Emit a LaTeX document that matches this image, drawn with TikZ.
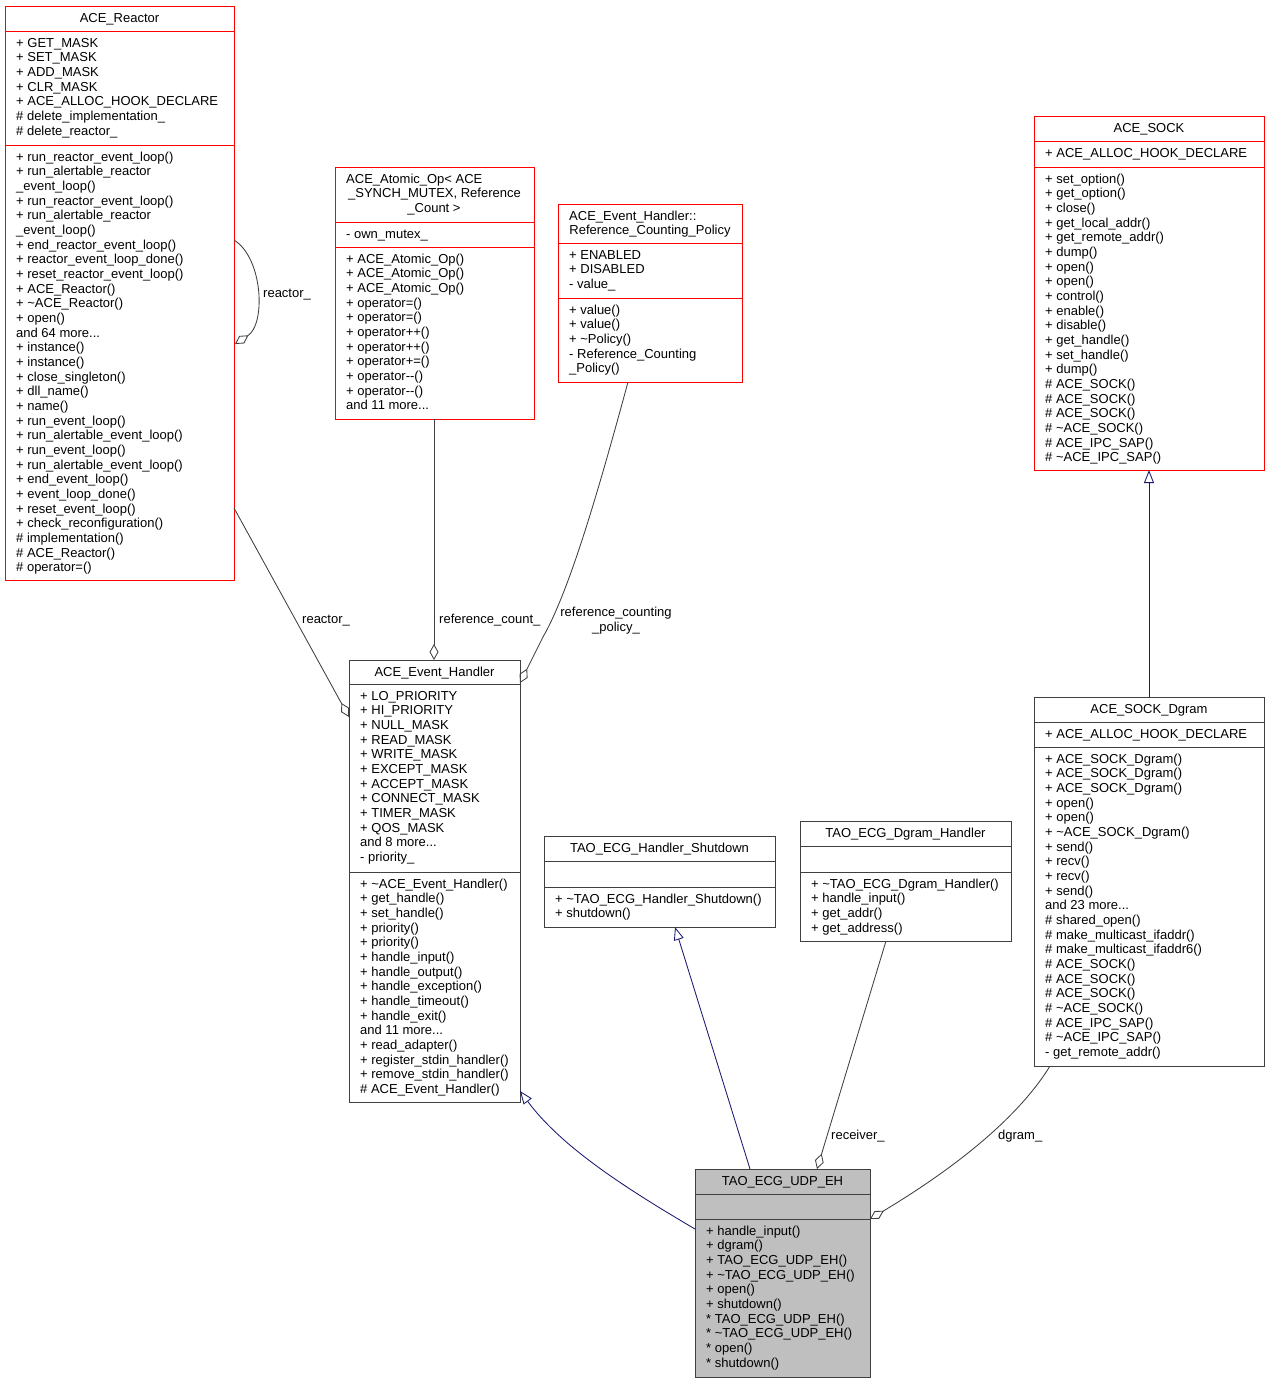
\documentclass[tikz,border=0pt]{standalone}
\usepackage{fontspec}
\setmainfont{Liberation Sans}
\usetikzlibrary{arrows.meta}
\definecolor{edgegray}{HTML}{404040}
\definecolor{inhblue}{HTML}{191970}
\definecolor{boxred}{HTML}{FF0000}
\definecolor{udpfill}{HTML}{BFBFBF}
\tikzset{
  cls/.style={draw=edgegray, fill=white, line width=1pt, inner sep=0pt, outer sep=0pt, anchor=north west},
  redcls/.style={cls, draw=boxred},
  mem/.style={anchor=base west, inner sep=0pt, font=\fontsize{13}{14.67}\selectfont},
  ttl/.style={anchor=base, inner sep=0pt, font=\fontsize{13}{14.67}\selectfont},
  lbl/.style={anchor=base west, inner sep=0pt, font=\fontsize{13}{14.67}\selectfont},
  usage/.style={draw=edgegray, line width=0.85pt, -{Diamond[open,length=16pt,width=9pt,line width=0.85pt]}},
  inh/.style={draw=inhblue, line width=0.85pt, -{Triangle[open,length=13pt,width=10pt,line width=0.85pt]}},
  divgray/.style={draw=edgegray, line width=1pt},
  divred/.style={draw=boxred, line width=1pt}
}
\newcommand\mdots{...}
\newcommand\members[4]{\foreach \t [count=\i from 0] in {#4}{\node[mem] (#1-\i) at (#2,{#3+16+14.67*\i}) {\t};}}
\begin{document}
\begin{tikzpicture}[x=1pt,y=-1pt]
\fill[white] (0,0) rectangle (1269,1384);
\useasboundingbox (0,0) rectangle (1269,1384);

% ---------- ACE_Reactor ----------
\node[redcls, minimum width=229pt, minimum height=574pt] (reactor) at (5,6) {};
\draw[divred] (5,31) -- (234,31);
\draw[divred] (5,145) -- (234,145);
\node[ttl] (reactor-t) at (119.5,22) {ACE\_Reactor};
\members{reactorA}{16}{31}{+ GET\_MASK,+ SET\_MASK,+ ADD\_MASK,+ CLR\_MASK,+ ACE\_ALLOC\_HOOK\_DECLARE,\# delete\_implementation\_,\# delete\_reactor\_}
\members{reactorM}{16}{145}{+ run\_reactor\_event\_loop(),+ run\_alertable\_reactor,\_event\_loop(),+ run\_reactor\_event\_loop(),+ run\_alertable\_reactor,\_event\_loop(),+ end\_reactor\_event\_loop(),+ reactor\_event\_loop\_done(),+ reset\_reactor\_event\_loop(),+ ACE\_Reactor(),+ \textasciitilde ACE\_Reactor(),+ open(),and 64 more\mdots,+ instance(),+ instance(),+ close\_singleton(),+ dll\_name(),+ name(),+ run\_event\_loop(),+ run\_alertable\_event\_loop(),+ run\_event\_loop(),+ run\_alertable\_event\_loop(),+ end\_event\_loop(),+ event\_loop\_done(),+ reset\_event\_loop(),+ check\_reconfiguration(),\# implementation(),\# ACE\_Reactor(),\# operator=()}

% ---------- ACE_Atomic_Op ----------
\node[redcls, minimum width=199pt, minimum height=252pt] (atomic) at (335,167) {};
\draw[divred] (335,222) -- (534,222);
\draw[divred] (335,247) -- (534,247);
\node[lbl] (atomic-t1) at (346,183) {ACE\_Atomic\_Op< ACE};
\node[ttl] (atomic-t2) at (434.5,197.7) {\_SYNCH\_MUTEX, Reference};
\node[ttl] (atomic-t3) at (434,212.3) {\_Count >};
\members{atomicA}{346}{222}{- own\_mutex\_}
\members{atomicM}{346}{247}{+ ACE\_Atomic\_Op(),+ ACE\_Atomic\_Op(),+ ACE\_Atomic\_Op(),+ operator=(),+ operator=(),+ operator++(),+ operator++(),+ operator+=(),+ operator-{}-(),+ operator-{}-(),and 11 more\mdots}

% ---------- Reference_Counting_Policy ----------
\node[redcls, minimum width=184pt, minimum height=178pt] (rcp) at (558,204) {};
\draw[divred] (558,243) -- (742,243);
\draw[divred] (558,298) -- (742,298);
\node[lbl] (rcp-t1) at (569,220) {ACE\_Event\_Handler::};
\node[ttl] (rcp-t2) at (650,234.7) {Reference\_Counting\_Policy};
\members{rcpA}{569}{243}{+ ENABLED,+ DISABLED,- value\_}
\members{rcpM}{569}{298}{+ value(),+ value(),+ \textasciitilde Policy(),- Reference\_Counting,\_Policy()}

% ---------- ACE_SOCK ----------
\node[redcls, minimum width=230pt, minimum height=354pt] (sock) at (1034,116) {};
\draw[divred] (1034,141) -- (1264,141);
\draw[divred] (1034,167) -- (1264,167);
\node[ttl] (sock-t) at (1149,132) {ACE\_SOCK};
\members{sockA}{1045}{141}{+ ACE\_ALLOC\_HOOK\_DECLARE}
\members{sockM}{1045}{167}{+ set\_option(),+ get\_option(),+ close(),+ get\_local\_addr(),+ get\_remote\_addr(),+ dump(),+ open(),+ open(),+ control(),+ enable(),+ disable(),+ get\_handle(),+ set\_handle(),+ dump(),\# ACE\_SOCK(),\# ACE\_SOCK(),\# ACE\_SOCK(),\# \textasciitilde ACE\_SOCK(),\# ACE\_IPC\_SAP(),\# \textasciitilde ACE\_IPC\_SAP()}

% ---------- ACE_Event_Handler ----------
\node[cls, minimum width=171pt, minimum height=442pt] (eh) at (349,660) {};
\draw[divgray] (349,684) -- (520,684);
\draw[divgray] (349,872) -- (520,872);
\node[ttl] (eh-t) at (434.5,676) {ACE\_Event\_Handler};
\members{ehA}{360}{684}{+ LO\_PRIORITY,+ HI\_PRIORITY,+ NULL\_MASK,+ READ\_MASK,+ WRITE\_MASK,+ EXCEPT\_MASK,+ ACCEPT\_MASK,+ CONNECT\_MASK,+ TIMER\_MASK,+ QOS\_MASK,and 8 more\mdots,- priority\_}
\members{ehM}{360}{872}{+ \textasciitilde ACE\_Event\_Handler(),+ get\_handle(),+ set\_handle(),+ priority(),+ priority(),+ handle\_input(),+ handle\_output(),+ handle\_exception(),+ handle\_timeout(),+ handle\_exit(),and 11 more\mdots,+ read\_adapter(),+ register\_stdin\_handler(),+ remove\_stdin\_handler(),\# ACE\_Event\_Handler()}

% ---------- TAO_ECG_Handler_Shutdown ----------
\node[cls, minimum width=231pt, minimum height=91pt] (shut) at (544,836) {};
\draw[divgray] (544,861) -- (775,861);
\draw[divgray] (544,887) -- (775,887);
\node[ttl] (shut-t) at (659.5,852) {TAO\_ECG\_Handler\_Shutdown};
\members{shutM}{555}{887}{+ \textasciitilde TAO\_ECG\_Handler\_Shutdown(),+ shutdown()}

% ---------- TAO_ECG_Dgram_Handler ----------
\node[cls, minimum width=211pt, minimum height=120pt] (dgh) at (800,821) {};
\draw[divgray] (800,846) -- (1011,846);
\draw[divgray] (800,872) -- (1011,872);
\node[ttl] (dgh-t) at (905.5,837) {TAO\_ECG\_Dgram\_Handler};
\members{dghM}{811}{872}{+ \textasciitilde TAO\_ECG\_Dgram\_Handler(),+ handle\_input(),+ get\_addr(),+ get\_address()}

% ---------- ACE_SOCK_Dgram ----------
\node[cls, minimum width=230pt, minimum height=369pt] (sockd) at (1034,697) {};
\draw[divgray] (1034,722) -- (1264,722);
\draw[divgray] (1034,747) -- (1264,747);
\node[ttl] (sockd-t) at (1149,713) {ACE\_SOCK\_Dgram};
\members{sockdA}{1045}{722}{+ ACE\_ALLOC\_HOOK\_DECLARE}
\members{sockdM}{1045}{747}{+ ACE\_SOCK\_Dgram(),+ ACE\_SOCK\_Dgram(),+ ACE\_SOCK\_Dgram(),+ open(),+ open(),+ \textasciitilde ACE\_SOCK\_Dgram(),+ send(),+ recv(),+ recv(),+ send(),and 23 more\mdots,\# shared\_open(),\# make\_multicast\_ifaddr(),\# make\_multicast\_ifaddr6(),\# ACE\_SOCK(),\# ACE\_SOCK(),\# ACE\_SOCK(),\# \textasciitilde ACE\_SOCK(),\# ACE\_IPC\_SAP(),\# \textasciitilde ACE\_IPC\_SAP(),- get\_remote\_addr()}

% ---------- TAO_ECG_UDP_EH ----------
\node[cls, fill=udpfill, minimum width=175pt, minimum height=208pt] (udp) at (695,1169) {};
\draw[divgray] (695,1194) -- (870,1194);
\draw[divgray] (695,1219) -- (870,1219);
\node[ttl] (udp-t) at (782.5,1185) {TAO\_ECG\_UDP\_EH};
\members{udpM}{706}{1219}{+ handle\_input(),+ dgram(),+ TAO\_ECG\_UDP\_EH(),+ \textasciitilde TAO\_ECG\_UDP\_EH(),+ open(),+ shutdown(),* TAO\_ECG\_UDP\_EH(),* \textasciitilde TAO\_ECG\_UDP\_EH(),* open(),* shutdown()}

% ---------- connector end points ----------
\coordinate (loopS) at (234,240);
\coordinate (loopE) at (235,344);
\coordinate (reacS) at (234,508);
\coordinate (reacE) at (349,717);
\coordinate (rcS) at (434,419);
\coordinate (rcE) at (434,660);
\coordinate (rcpS) at (628,382);
\coordinate (rcpE) at (520,683);
\coordinate (sdS) at (1149,697);
\coordinate (sdE) at (1149,470);
\coordinate (udpL) at (695,1229);
\coordinate (ehBR) at (520,1091);
\coordinate (udpT) at (750,1169);
\coordinate (shutB) at (675,927);
\coordinate (dghB) at (886,941);
\coordinate (udpR) at (817,1169);
\coordinate (sockdB) at (1050,1066);
\coordinate (udpE) at (870,1219);

% ---------- connectors ----------
\draw[usage] (loopS) .. controls (263,258) and (266,324) .. (loopE);
\draw[usage] (reacS) -- (reacE);
\draw[usage] (rcS) -- (rcE);
\draw[usage] (rcpS) .. controls (600,485) and (570,590) .. (543,637) -- (rcpE);
\draw[inh] (sdS) -- (sdE);
\draw[inh] (udpL) .. controls (620,1185) and (560,1145) .. (ehBR);
\draw[inh] (udpT) -- (shutB);
\draw[usage] (dghB) -- (udpR);
\draw[usage] (sockdB) .. controls (1018,1118) and (955,1168) .. (udpE);

% ---------- labels ----------
\node[lbl] (lab-loop) at (263,297) {reactor\_};
\node[lbl] (lab-reac) at (302,623) {reactor\_};
\node[lbl] (lab-rc) at (439,623) {reference\_count\_};
\node[ttl] (lab-rcp1) at (616,616) {reference\_counting};
\node[ttl] (lab-rcp2) at (616,631) {\_policy\_};
\node[lbl] (lab-recv) at (831,1139) {receiver\_};
\node[lbl] (lab-dgram) at (998,1139) {dgram\_};
\end{tikzpicture}
\end{document}
